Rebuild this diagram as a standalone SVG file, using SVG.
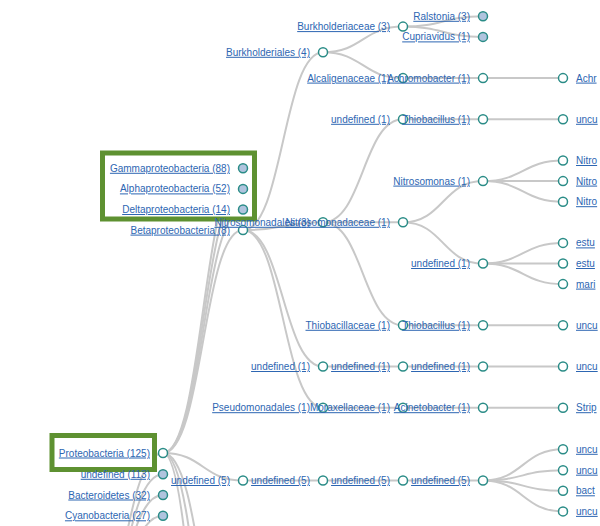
<svg xmlns="http://www.w3.org/2000/svg" width="600" height="526" viewBox="0 0 600 526">
<style>
.link{fill:none;stroke:#c8c8c8;stroke-width:2}
.node circle{stroke:#2a8c87;stroke-width:1.5;fill:#fff}
.node circle.c{fill:#b0c4de}
.node text{font-family:"Liberation Sans",Arial,sans-serif;font-size:10px;fill:#2d66b2;text-decoration:underline}
.l{text-anchor:end}
.hl{fill:#fff;stroke:#5e9131;stroke-width:5}
</style>
<rect width="600" height="526" fill="#fff"/>
<g id="links">
<path class="link" d="M83,650C123,650 123,453 163,453"/>
<path class="link" d="M83,650C123,650 123,474.3 163,474.3"/>
<path class="link" d="M83,650C123,650 123,495 163,495"/>
<path class="link" d="M83,650C123,650 123,515.8 163,515.8"/>
<path class="link" d="M163,453C203,453 203,168.3 243,168.3"/>
<path class="link" d="M163,453C203,453 203,188.9 243,188.9"/>
<path class="link" d="M163,453C203,453 203,209.5 243,209.5"/>
<path class="link" d="M163,453C203,453 203,230.1 243,230.1"/>
<path class="link" d="M163,453C203,453 203,480.5 243,480.5"/>
<path class="link" d="M163,453C203,453 203,700 243,700"/>
<path class="link" d="M163,453C203,453 203,850 243,850"/>
<path class="link" d="M163,453C203,453 203,1100 243,1100"/>
<path class="link" d="M243,230.1C283,230.1 283,52.3 323,52.3"/>
<path class="link" d="M243,230.1C283,230.1 283,222.3 323,222.3"/>
<path class="link" d="M243,230.1C283,230.1 283,366.5 323,366.5"/>
<path class="link" d="M243,230.1C283,230.1 283,407.7 323,407.7"/>
<path class="link" d="M323,52.3C363,52.3 363,26.6 403,26.6"/>
<path class="link" d="M323,52.3C363,52.3 363,78.1 403,78.1"/>
<path class="link" d="M403,26.6C443,26.6 443,16.3 483,16.3"/>
<path class="link" d="M403,26.6C443,26.6 443,36.9 483,36.9"/>
<path class="link" d="M403,78.1H563"/>
<path class="link" d="M323,222.3C363,222.3 363,119.3 403,119.3"/>
<path class="link" d="M323,222.3H403"/>
<path class="link" d="M323,222.3C363,222.3 363,325.3 403,325.3"/>
<path class="link" d="M403,119.3H563"/>
<path class="link" d="M403,222.3C443,222.3 443,181.1 483,181.1"/>
<path class="link" d="M403,222.3C443,222.3 443,263.5 483,263.5"/>
<path class="link" d="M483,181.1C523,181.1 523,160.5 563,160.5"/>
<path class="link" d="M483,181.1H563"/>
<path class="link" d="M483,181.1C523,181.1 523,201.7 563,201.7"/>
<path class="link" d="M483,263.5C523,263.5 523,242.9 563,242.9"/>
<path class="link" d="M483,263.5H563"/>
<path class="link" d="M483,263.5C523,263.5 523,284.1 563,284.1"/>
<path class="link" d="M403,325.3H563"/>
<path class="link" d="M323,366.5H563"/>
<path class="link" d="M323,407.7H563"/>
<path class="link" d="M243,480.5H483"/>
<path class="link" d="M483,480.5C523,480.5 523,449.3 563,449.3"/>
<path class="link" d="M483,480.5C523,480.5 523,470.2 563,470.2"/>
<path class="link" d="M483,480.5C523,480.5 523,490.8 563,490.8"/>
<path class="link" d="M483,480.5C523,480.5 523,511.4 563,511.4"/>
</g>
<g id="highlights">
<rect class="hl" x="102.5" y="153" width="152" height="66"/>
<rect class="hl" x="52" y="435.5" width="102.5" height="34"/>
</g>
<g id="n-proteobacteria" class="node"><circle cx="163" cy="453" r="4.5"/><text class="l" x="150" y="456.5">Proteobacteria (125)</text></g>
<g id="n-undefined113" class="node"><circle class="c" cx="163" cy="474.3" r="4.5"/><text class="l" x="150" y="477.8">undefined (113)</text></g>
<g id="n-bacteroidetes" class="node"><circle class="c" cx="163" cy="495" r="4.5"/><text class="l" x="150" y="498.5">Bacteroidetes (32)</text></g>
<g id="n-cyanobacteria" class="node"><circle class="c" cx="163" cy="515.8" r="4.5"/><text class="l" x="150" y="519.3">Cyanobacteria (27)</text></g>
<g id="n-gamma" class="node"><circle class="c" cx="243" cy="168.3" r="4.5"/><text class="l" x="230" y="171.8">Gammaproteobacteria (88)</text></g>
<g id="n-alpha" class="node"><circle class="c" cx="243" cy="188.9" r="4.5"/><text class="l" x="230" y="192.4">Alphaproteobacteria (52)</text></g>
<g id="n-delta" class="node"><circle class="c" cx="243" cy="209.5" r="4.5"/><text class="l" x="230" y="213">Deltaproteobacteria (14)</text></g>
<g id="n-beta" class="node"><circle cx="243" cy="230.1" r="4.5"/><text class="l" x="230" y="233.6">Betaproteobacteria (8)</text></g>
<g id="n-undef5a" class="node"><circle cx="243" cy="480.5" r="4.5"/><text class="l" x="230" y="484">undefined (5)</text></g>
<g id="n-burkholderiales" class="node"><circle cx="323" cy="52.3" r="4.5"/><text class="l" x="310" y="55.8">Burkholderiales (4)</text></g>
<g id="n-nitrosomonadales" class="node"><circle cx="323" cy="222.3" r="4.5"/><text class="l" x="310" y="225.8">Nitrosomonadales (3)</text></g>
<g id="n-undef-o" class="node"><circle cx="323" cy="366.5" r="4.5"/><text class="l" x="310" y="370">undefined (1)</text></g>
<g id="n-pseudomonadales" class="node"><circle cx="323" cy="407.7" r="4.5"/><text class="l" x="310" y="411.2">Pseudomonadales (1)</text></g>
<g id="n-undef5b" class="node"><circle cx="323" cy="480.5" r="4.5"/><text class="l" x="310" y="484">undefined (5)</text></g>
<g id="n-burkholderiaceae" class="node"><circle cx="403" cy="26.6" r="4.5"/><text class="l" x="390" y="30.1">Burkholderiaceae (3)</text></g>
<g id="n-alcaligenaceae" class="node"><circle cx="403" cy="78.1" r="4.5"/><text class="l" x="390" y="81.6">Alcaligenaceae (1)</text></g>
<g id="n-undef-f1" class="node"><circle cx="403" cy="119.3" r="4.5"/><text class="l" x="390" y="122.8">undefined (1)</text></g>
<g id="n-nitrosomonadaceae" class="node"><circle cx="403" cy="222.3" r="4.5"/><text class="l" x="390" y="225.8">Nitrosomonadaceae (1)</text></g>
<g id="n-thiobacillaceae" class="node"><circle cx="403" cy="325.3" r="4.5"/><text class="l" x="390" y="328.8">Thiobacillaceae (1)</text></g>
<g id="n-undef-f2" class="node"><circle cx="403" cy="366.5" r="4.5"/><text class="l" x="390" y="370">undefined (1)</text></g>
<g id="n-moraxellaceae" class="node"><circle cx="403" cy="407.7" r="4.5"/><text class="l" x="390" y="411.2">Moraxellaceae (1)</text></g>
<g id="n-undef5c" class="node"><circle cx="403" cy="480.5" r="4.5"/><text class="l" x="390" y="484">undefined (5)</text></g>
<g id="n-ralstonia" class="node"><circle class="c" cx="483" cy="16.3" r="4.5"/><text class="l" x="470" y="19.8">Ralstonia (3)</text></g>
<g id="n-cupriavidus" class="node"><circle class="c" cx="483" cy="36.9" r="4.5"/><text class="l" x="470" y="40.4">Cupriavidus (1)</text></g>
<g id="n-achromobacter" class="node"><circle cx="483" cy="78.1" r="4.5"/><text class="l" x="470" y="81.6">Achromobacter (1)</text></g>
<g id="n-thiobacillus1" class="node"><circle cx="483" cy="119.3" r="4.5"/><text class="l" x="470" y="122.8">Thiobacillus (1)</text></g>
<g id="n-nitrosomonas" class="node"><circle cx="483" cy="181.1" r="4.5"/><text class="l" x="470" y="184.6">Nitrosomonas (1)</text></g>
<g id="n-undef-g1" class="node"><circle cx="483" cy="263.5" r="4.5"/><text class="l" x="470" y="267">undefined (1)</text></g>
<g id="n-thiobacillus2" class="node"><circle cx="483" cy="325.3" r="4.5"/><text class="l" x="470" y="328.8">Thiobacillus (1)</text></g>
<g id="n-undef-g2" class="node"><circle cx="483" cy="366.5" r="4.5"/><text class="l" x="470" y="370">undefined (1)</text></g>
<g id="n-acinetobacter" class="node"><circle cx="483" cy="407.7" r="4.5"/><text class="l" x="470" y="411.2">Acinetobacter (1)</text></g>
<g id="n-undef5d" class="node"><circle cx="483" cy="480.5" r="4.5"/><text class="l" x="470" y="484">undefined (5)</text></g>
<g id="s-achr" class="node"><circle cx="563" cy="78.1" r="4.5"/><text x="576" y="81.6">Achr</text></g>
<g id="s-uncu1" class="node"><circle cx="563" cy="119.3" r="4.5"/><text x="576" y="122.8">uncu</text></g>
<g id="s-nitro1" class="node"><circle cx="563" cy="160.5" r="4.5"/><text x="576" y="164">Nitro</text></g>
<g id="s-nitro2" class="node"><circle cx="563" cy="181.1" r="4.5"/><text x="576" y="184.6">Nitro</text></g>
<g id="s-nitro3" class="node"><circle cx="563" cy="201.7" r="4.5"/><text x="576" y="205.2">Nitro</text></g>
<g id="s-estu1" class="node"><circle cx="563" cy="242.9" r="4.5"/><text x="576" y="246.4">estu</text></g>
<g id="s-estu2" class="node"><circle cx="563" cy="263.5" r="4.5"/><text x="576" y="267">estu</text></g>
<g id="s-mari" class="node"><circle cx="563" cy="284.1" r="4.5"/><text x="576" y="287.6">mari</text></g>
<g id="s-uncu2" class="node"><circle cx="563" cy="325.3" r="4.5"/><text x="576" y="328.8">uncu</text></g>
<g id="s-uncu3" class="node"><circle cx="563" cy="366.5" r="4.5"/><text x="576" y="370">uncu</text></g>
<g id="s-strip" class="node"><circle cx="563" cy="407.7" r="4.5"/><text x="576" y="411.2">Strip</text></g>
<g id="s-uncu4" class="node"><circle cx="563" cy="449.3" r="4.5"/><text x="576" y="452.8">uncu</text></g>
<g id="s-uncu5" class="node"><circle cx="563" cy="470.2" r="4.5"/><text x="576" y="473.7">uncu</text></g>
<g id="s-bact" class="node"><circle cx="563" cy="490.8" r="4.5"/><text x="576" y="494.3">bact</text></g>
<g id="s-uncu6" class="node"><circle cx="563" cy="511.4" r="4.5"/><text x="576" y="514.9">uncu</text></g>
</svg>
